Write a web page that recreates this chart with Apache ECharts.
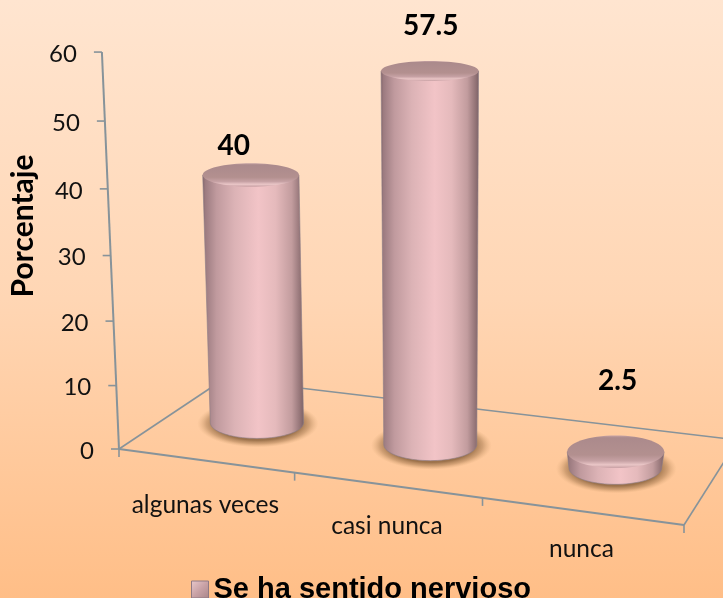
<!DOCTYPE html>
<html><head><meta charset="utf-8">
<style>html,body{margin:0;padding:0;background:#fff}#c{width:723px;height:598px}</style>
<script src="https://cdn.jsdelivr.net/npm/echarts@6/dist/echarts.min.js"></script>
</head><body><div id="c"></div>
<script>
const categories = ['algunas veces', 'casi nunca', 'nunca'];
const seriesValues = [40, 57.5, 2.5];
const seriesName = 'Se ha sentido nervioso';
const yTickLabels = [0, 10, 20, 30, 40, 50, 60];
const yAxisTitle = 'Porcentaje';

// ---- perspective camera (layout only, no data) ----
const YMAX = 60;
const Q = {A:[119,449], B:[684,525], D:[738,440], C:[224,379]};
const labelShift = [[-17,-17],[1,-35],[2,-55]];
const dx1=Q.B[0]-Q.D[0], dx2=Q.C[0]-Q.D[0], sx=Q.A[0]-Q.B[0]+Q.D[0]-Q.C[0];
const dy1=Q.B[1]-Q.D[1], dy2=Q.C[1]-Q.D[1], sy=Q.A[1]-Q.B[1]+Q.D[1]-Q.C[1];
const den=dx1*dy2-dx2*dy1, g=(sx*dy2-dx2*sy)/den, h=(dx1*sy-sx*dy1)/den;
const a=Q.B[0]-Q.A[0]+g*Q.B[0], b=Q.C[0]-Q.A[0]+h*Q.C[0];
const d=Q.B[1]-Q.A[1]+g*Q.B[1], e=Q.C[1]-Q.A[1]+h*Q.C[1];
function floorPt(u,v){const w=g*u+h*v+1;return [(a*u+b*v+Q.A[0])/w,(d*u+e*v+Q.A[1])/w];}
function rise(val){return 6.29*val/(1-0.00082*val);}
// a point at floor position (u,v) lifted to the height val
function project(u,v,val){
  const p=floorPt(u,v);
  const s=(u===0&&v===0)?1:1-0.0000272*(p[0]-119)+0.001676*(p[1]-449);
  const dy=rise(val)*s;
  return [p[0]+(440-p[0])*(-dy)/(7900-p[1]),p[1]-dy];
}
// turn the library's own scale output into fractions of the plot
function uvFrac(params,api,i,val){
  const c=api.coord([i,val]),r=params.coordSys;
  return {u:(c[0]-r.x)/r.width,val:(r.y+r.height-c[1])/r.height*YMAX};
}
function ryAt(y){return 10+0.0165*(y-71);}
function rxAt(y){return 46.5+(444-y)*0.006;}

const axisCol='#87939a';
const bodyGrad=()=>new echarts.graphic.LinearGradient(0,0,1,0,[
 {offset:0,color:'#7f6266'},{offset:.03,color:'#9c7b80'},{offset:.14,color:'#c09a9e'},
 {offset:.32,color:'#dcb3b6'},{offset:.55,color:'#f2c4c7'},{offset:.72,color:'#e5babc'},
 {offset:.88,color:'#c29c9e'},{offset:.97,color:'#8f7073'},{offset:1,color:'#776065'}]);
const topGrad=()=>new echarts.graphic.LinearGradient(0,0,0,1,[
 {offset:0,color:'#c5a2a4'},{offset:.07,color:'#ab8a8c'},{offset:.6,color:'#b3908f'},
 {offset:.78,color:'#c6a1a4'},{offset:.9,color:'#eac6c7'},{offset:1,color:'#c8a0a4'}]);
const shadowGrad=()=>new echarts.graphic.RadialGradient(.5,.5,.5,[
 {offset:0,color:'rgba(140,100,62,.9)'},{offset:.7,color:'rgba(140,100,62,.85)'},
 {offset:.85,color:'rgba(165,120,78,.5)'},{offset:1,color:'rgba(210,160,110,0)'}]);

function renderBar(params,api){
  const i=api.value(0),f=uvFrac(params,api,i,api.value(1));
  const base=floorPt(f.u,.5),top=project(f.u,.5,f.val);
  const rb=rxAt(base[1]),rt=rxAt(top[1])+ (f.val<5?2:0);
  const yb=ryAt(base[1]),yt=ryAt(top[1]);
  const pts=[[top[0]-rt,top[1]],[top[0]+rt,top[1]]];
  for(let k=0;k<=40;k++){const t=k/40*Math.PI;pts.push([base[0]+rb*Math.cos(t),base[1]+yb*Math.sin(t)]);}
  const sh=labelShift[i];
  return {type:'group',children:[
    {type:'circle',shape:{cx:0,cy:0,r:50},x:base[0]+1,y:base[1]+1,scaleX:(rb+14)/50,scaleY:(yb+8)/50,style:{fill:shadowGrad()}},
    {type:'polygon',shape:{points:pts},style:{fill:bodyGrad(),stroke:'rgba(140,125,135,.6)',lineWidth:1}},
    {type:'ellipse',shape:{cx:top[0],cy:top[1],rx:rt,ry:yt},style:{fill:topGrad()}},
    {type:'text',style:{text:String(api.value(1)),x:top[0]+sh[0],y:top[1]-yt+sh[1],align:'center',verticalAlign:'middle',
      font:'bold 28px Lato',fill:'#000'}}
  ]};
}
function renderFloor(params,api){
  const n=categories.length,line=(p,q,w)=>({type:'line',shape:{x1:p[0],y1:p[1],x2:q[0],y2:q[1]},style:{stroke:axisCol,lineWidth:w||1.6}});
  const kids=[line(Q.A,Q.C),line(Q.C,Q.D),line(Q.D,Q.B),line(Q.A,Q.B,2),line(project(0,0,0),project(0,0,YMAX),2)];
  for(let k=0;k<=n;k++){const p=floorPt(k/n,0);kids.push(line(p,[p[0],p[1]+8]));}
  return {type:'group',children:kids};
}
function renderYTick(params,api){
  const f=uvFrac(params,api,0,api.value(0)),p=project(0,0,f.val);
  return {type:'group',children:[
    {type:'line',shape:{x1:p[0]-8,y1:p[1],x2:p[0],y2:p[1]},style:{stroke:axisCol,lineWidth:1.6}},
    {type:'text',style:{text:String(api.value(0)),x:p[0]-25,y:p[1]+2,align:'right',verticalAlign:'middle',font:'24px Lato',fill:'#111'}}
  ]};
}
function renderCat(params,api){
  const i=api.value(0),c=api.coord([i,0]),r=params.coordSys,p=floorPt((c[0]-r.x)/r.width,0);
  return {type:'text',style:{text:categories[i],x:p[0],y:p[1]+44-3*i,align:'center',verticalAlign:'middle',font:'24.5px Lato',fill:'#111'}};
}

const chart=echarts.init(document.getElementById('c'));
chart.setOption({
  animation:false,
  backgroundColor:new echarts.graphic.LinearGradient(0,0,0,1,[
    {offset:0,color:'#FFE5D0'},{offset:.5,color:'#FFD6B4'},{offset:1,color:'#FFBE87'}]),
  grid:{left:119,right:39,top:52,bottom:149},
  xAxis:{type:'category',data:categories,show:false},
  yAxis:{type:'value',min:0,max:YMAX,interval:10,show:false},
  legend:{left:186,top:570,itemWidth:17,itemHeight:17,icon:'rect',selectedMode:false,
    data:[{name:seriesName,itemStyle:{color:new echarts.graphic.LinearGradient(0,0,1,1,[
      {offset:0,color:'#e9c9cc'},{offset:.5,color:'#c9a2a6'},{offset:1,color:'#a88589'}]),borderColor:'#8f7a84',borderWidth:1}}],
    textStyle:{fontFamily:'Liberation Sans',fontWeight:'bold',fontSize:29,color:'#000'}},
  graphic:[{type:'text',rotation:Math.PI/2,x:23,y:226,style:{text:yAxisTitle,align:'center',verticalAlign:'middle',font:'bold 30px Lato',fill:'#000'}}],
  series:[
    {type:'custom',name:'floor',data:[[0]],renderItem:renderFloor,z:1,silent:true,clip:false},
    {type:'custom',name:'yticks',data:yTickLabels.map(v=>[v]),renderItem:renderYTick,encode:{y:0},z:2,silent:true,clip:false},
    {type:'custom',name:'cats',data:categories.map((c,i)=>[i]),renderItem:renderCat,encode:{x:0},z:2,silent:true,clip:false},
    {type:'custom',name:seriesName,data:seriesValues.map((v,i)=>[i,v]),renderItem:renderBar,encode:{x:0,y:1},z:3,clip:false}
  ]
});
</script></body></html>
